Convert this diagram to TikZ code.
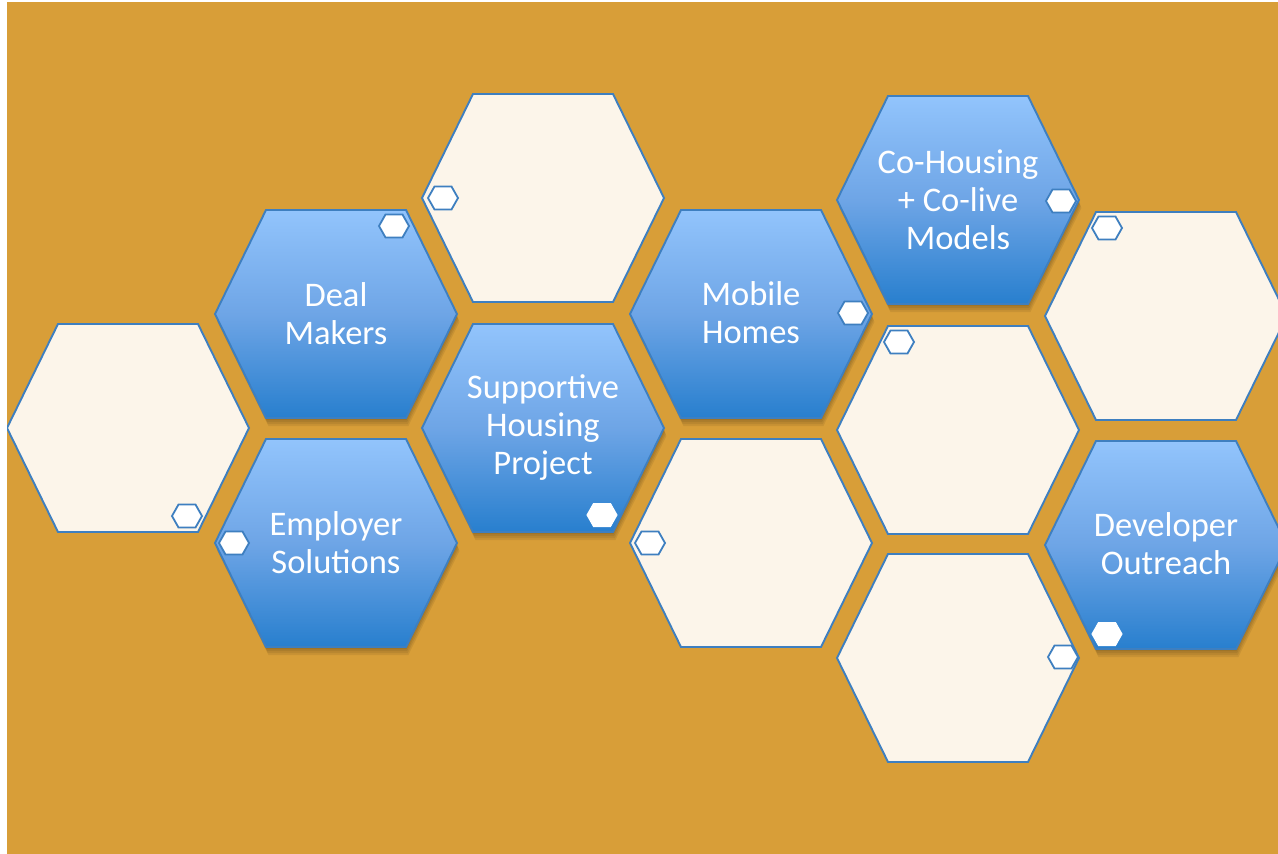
\documentclass[tikz,border=0pt]{standalone}
\usepackage{fontspec}
\setmainfont{Carlito}
\definecolor{bgorange}{RGB}{216,158,56}
\definecolor{cream}{RGB}{252,245,234}
\definecolor{hexline}{RGB}{62,127,192}
\definecolor{bluetop}{RGB}{146,196,252}
\definecolor{bluemid}{RGB}{110,165,230}
\definecolor{bluebot}{RGB}{40,127,206}
\tikzset{
  bighex/.pic={\path[pic actions] (-121,0) -- (-70,-104) -- (70,-104) -- (121,0) -- (70,104) -- (-70,104) -- cycle;},
  smallhex/.pic={\path[pic actions] (-15,0) -- (-8.5,-11.5) -- (8.5,-11.5) -- (15,0) -- (8.5,11.5) -- (-8.5,11.5) -- cycle;},
  creamhex/.style={fill=cream, draw=hexline, line width=1.9},
  bluehex/.style={top color=bluetop, bottom color=bluebot, middle color=bluemid, draw=hexline, line width=1.9},
  shadowhex/.style={fill=black, opacity=0.07, draw=none},
  dot/.style={fill=white, draw=hexline, line width=1.8},
  dotw/.style={fill=white, draw=white, line width=1},
  label/.style={text=white, align=center, font=\fontsize{34.5}{38}\selectfont}
}
\newcommand{\bluecell}[2]{%
  \foreach \s in {2,4,6,8}{\pic[shadowhex] at (#1+\s*0.3,#2+\s) {bighex};}
  \pic[bluehex] at (#1,#2) {bighex};}
\begin{document}
\begin{tikzpicture}[x=1pt,y=-1pt]
\useasboundingbox (0,0) rectangle (1278,854);
\fill[white] (0,0) rectangle (1278,854);
\fill[bgorange] (7,2) rectangle (1278,854);
\clip (7,2) rectangle (1278,854);
% cream cells
\pic[creamhex] at (128,428) {bighex};
\pic[creamhex] at (543,198) {bighex};
\pic[creamhex] at (751,543) {bighex};
\pic[creamhex] at (958,430) {bighex};
\pic[creamhex] at (958,658) {bighex};
\pic[creamhex] at (1166,316) {bighex};
% blue cells
\bluecell{336}{314}
\bluecell{336}{543}
\bluecell{543}{428}
\bluecell{751}{314}
\bluecell{958}{200}
\bluecell{1166}{545}
% labels
\node[label] (deal) at (336,314) {Deal\\Makers};
\node[label] (empl) at (336,543) {Employer\\Solutions};
\node[label] (supp) at (543,428) {Supportive\\Housing\\Project};
\node[label] (mobi) at (751,313) {Mobile\\Homes};
\node[label] (coho) at (958,200) {Co-Housing\\+ Co-live\\Models};
\node[label] (deve) at (1166,544) {Developer\\Outreach};
% small indicator hexagons
\pic[dot] at (394,226) {smallhex};
\pic[dot] at (443,198) {smallhex};
\pic[dot] at (187,516) {smallhex};
\pic[dot] at (234,543) {smallhex};
\pic[dotw] at (602,515) {smallhex};
\pic[dot] at (853,313) {smallhex};
\pic[dot] at (650,543) {smallhex};
\pic[dot] at (1061,201) {smallhex};
\pic[dot] at (899,342) {smallhex};
\pic[dot] at (1063,657) {smallhex};
\pic[dot] at (1107,228) {smallhex};
\pic[dotw] at (1107,634) {smallhex};
\end{tikzpicture}
\end{document}
